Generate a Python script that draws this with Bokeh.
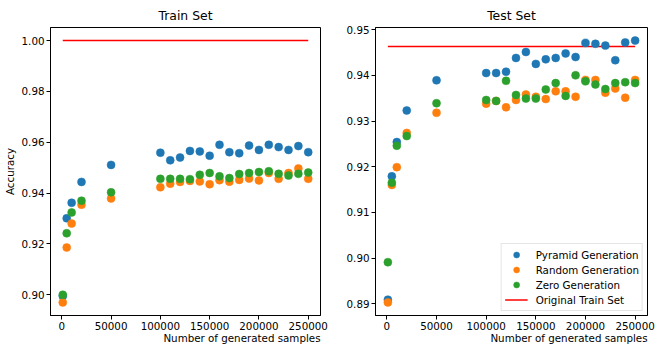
from bokeh.plotting import figure
from bokeh.layouts import row
from bokeh.models import (Range1d, FixedTicker, Legend, LegendItem, Title,
                          PrintfTickFormatter)
from bokeh.embed import file_html
from bokeh.resources import INLINE

# ---------------- data ----------------
samples = [1000, 5000, 10000, 20000, 50000,
           100000, 110000, 120000, 130000, 140000, 150000, 160000, 170000,
           180000, 190000, 200000, 210000, 220000, 230000, 240000, 250000]

train_pyramid = [0.8995, 0.9301, 0.9362, 0.9444, 0.9511,
                 0.9559, 0.9529, 0.9540, 0.9566, 0.9564, 0.9547, 0.9590, 0.9561,
                 0.9557, 0.9587, 0.9570, 0.9590, 0.9581, 0.9570, 0.9585, 0.9561]
train_random = [0.8970, 0.9186, 0.9280, 0.9354, 0.9379,
                0.9423, 0.9437, 0.9444, 0.9448, 0.9446, 0.9435, 0.9451, 0.9445,
                0.9452, 0.9457, 0.9450, 0.9479, 0.9456, 0.9479, 0.9497, 0.9456]
train_zero = [0.9000, 0.9242, 0.9324, 0.9370, 0.9403,
              0.9456, 0.9456, 0.9456, 0.9455, 0.9472, 0.9479, 0.9466, 0.9459,
              0.9475, 0.9479, 0.9483, 0.9486, 0.9476, 0.9469, 0.9476, 0.9481]

test_pyramid = [0.8909, 0.9179, 0.9254, 0.9323, 0.9389,
                0.9405, 0.9405, 0.9408, 0.9438, 0.9451, 0.9425, 0.9435, 0.9438,
                0.9448, 0.9440, 0.9471, 0.9469, 0.9465, 0.9433, 0.9472, 0.9476]
test_random = [0.8903, 0.9160, 0.9199, 0.9274, 0.9318,
               0.9338, 0.9344, 0.9330, 0.9346, 0.9358, 0.9353, 0.9348, 0.9365,
               0.9365, 0.9353, 0.9390, 0.9390, 0.9362, 0.9371, 0.9351, 0.9390]
test_zero = [0.8991, 0.9165, 0.9246, 0.9267, 0.9339,
             0.9346, 0.9344, 0.9388, 0.9357, 0.9349, 0.9349, 0.9369, 0.9383,
             0.9355, 0.9400, 0.9387, 0.9380, 0.9370, 0.9383, 0.9385, 0.9383]

original_train = 1.0
original_test = 0.9463
line_x = [1000, 250000]

series_names = ["Pyramid Generation", "Random Generation", "Zero Generation"]
series_colors = ["#1f77b4", "#ff7f0e", "#2ca02c"]
line_name = "Original Train Set"
x_label = "Number of generated samples"

x_ticks = [0, 50000, 100000, 150000, 200000, 250000]
train_y_ticks = [0.90, 0.92, 0.94, 0.96, 0.98, 1.00]
test_y_ticks = [0.89, 0.90, 0.91, 0.92, 0.93, 0.94, 0.95]

FONT = "DejaVu Sans"
TICK_FS = "10.3px"
TITLE_FS = "12.4px"


def padded(vals):
    lo, hi = min(vals), max(vals)
    pad = 0.05 * (hi - lo)
    return lo - pad, hi + pad


def make_panel(title, series, ref_value, yticks, width, mb_left, mb_right,
               ylabel=None, legend=False):
    all_y = [v for s in series for v in s] + [ref_value]
    y0, y1 = padded(all_y)
    x0, x1 = padded(samples)
    p = figure(width=width, height=344, output_backend="svg", toolbar_location=None,
               x_range=Range1d(x0, x1), y_range=Range1d(y0, y1),
               min_border_left=mb_left, min_border_right=mb_right,
               min_border_top=0, min_border_bottom=0)
    p.title.text = title
    p.title.text_font = FONT
    p.title.text_font_size = TITLE_FS
    p.title.text_font_style = "normal"
    p.title.align = "center"
    p.title.standoff = 10
    p.title.text_color = "#000000"

    p.xgrid.visible = False
    p.ygrid.visible = False
    p.outline_line_color = "#000000"
    p.outline_line_width = 1
    p.background_fill_color = "white"
    p.border_fill_color = "white"

    for ax in (p.xaxis[0], p.yaxis[0]):
        ax.axis_line_color = "#000000"
        ax.major_tick_line_color = "#000000"
        ax.major_tick_out = 4
        ax.major_tick_in = 0
        ax.minor_tick_line_color = None
        ax.major_label_text_font = FONT
        ax.major_label_text_font_size = TICK_FS
        ax.major_label_text_color = "#000000"
        ax.major_label_standoff = 2
        ax.axis_label_text_font = FONT
        ax.axis_label_text_font_size = TICK_FS
        ax.axis_label_text_font_style = "normal"
        ax.axis_label_text_color = "#000000"
    p.xaxis[0].ticker = FixedTicker(ticks=x_ticks)
    p.xaxis[0].formatter = PrintfTickFormatter(format="%d")
    p.yaxis[0].ticker = FixedTicker(ticks=yticks)
    p.yaxis[0].formatter = PrintfTickFormatter(format="%.2f")

    if ylabel:
        p.yaxis[0].axis_label = ylabel
        p.yaxis[0].axis_label_standoff = 3

    xl = Title(text=x_label, align="right", vertical_align="top", text_font=FONT,
               text_font_size=TICK_FS, text_font_style="normal",
               text_color="#000000", standoff=-2)
    p.add_layout(xl, "below")

    ln = p.line(line_x, [ref_value, ref_value], line_color="red", line_width=1.5)
    rs = []
    for vals, c in zip(series, series_colors):
        r = p.scatter(samples, vals, size=8, fill_color=c, line_color=c, line_width=0.5)
        rs.append(r)

    if legend:
        items = [LegendItem(label=n, renderers=[r]) for n, r in zip(series_names, rs)]
        items.append(LegendItem(label=line_name, renderers=[ln]))
        lg = Legend(items=items, location="bottom_right", margin=4, padding=3,
                    spacing=0, label_height=15, glyph_height=15, glyph_width=23,
                    label_standoff=8, label_text_font=FONT, label_text_font_size=TICK_FS,
                    label_text_color="#000000", border_line_color="#cccccc",
                    border_line_width=1, background_fill_alpha=0.8)
        p.add_layout(lg, "center")
    return p


p1 = make_panel("Train Set", [train_pyramid, train_random, train_zero], original_train,
                train_y_ticks, 332, 45, 12, ylabel="Accuracy")
p2 = make_panel("Test Set", [test_pyramid, test_random, test_zero], original_test,
                test_y_ticks, 323, 43, 8, legend=True)

layout = row(p1, p2)
open("out.html", "w").write(file_html(layout, INLINE))
